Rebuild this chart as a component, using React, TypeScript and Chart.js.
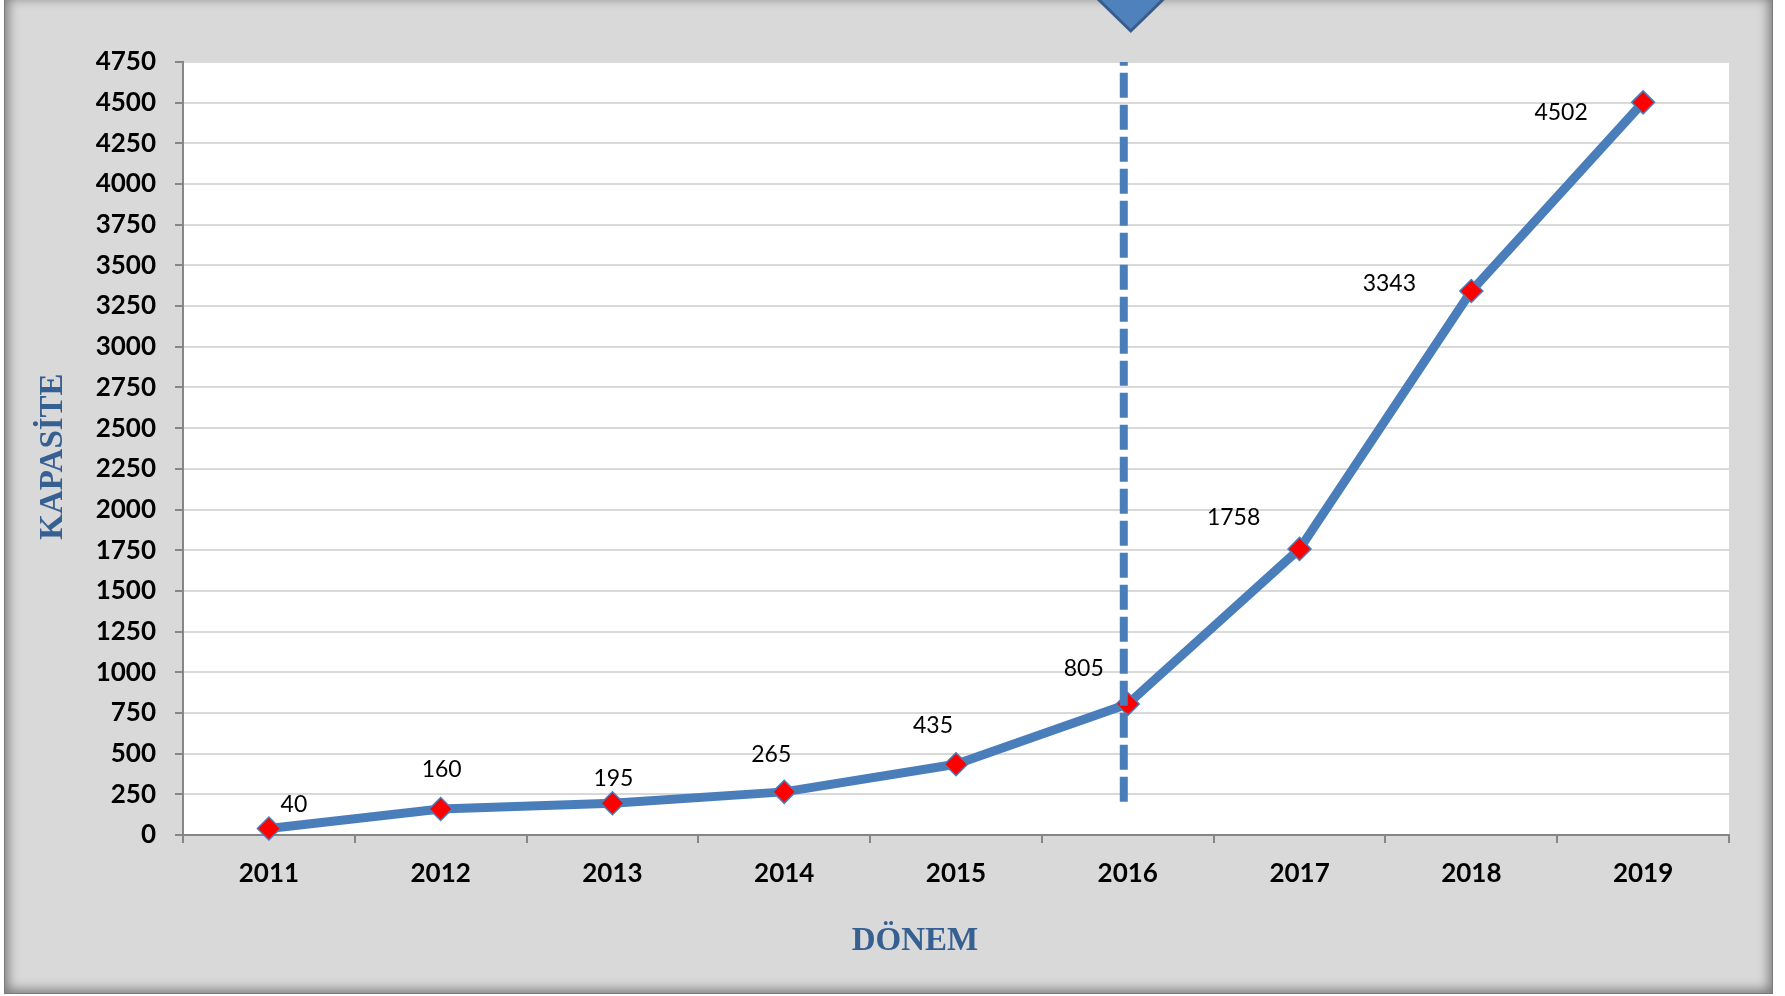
import React, { useEffect, useRef } from 'react';
import { Chart, registerables } from 'chart.js';

Chart.register(...registerables);

// ---- data ----
const YEARS = ['2011', '2012', '2013', '2014', '2015', '2016', '2017', '2018', '2019'];
const CAPACITY = [40, 160, 195, 265, 435, 805, 1758, 3343, 4502];
const Y_MIN = 0;
const Y_MAX = 4750;
const Y_STEP = 250;
const X_TITLE = 'DÖNEM';
const Y_TITLE = 'KAPASİTE';
const MARKER_YEAR = '2016';
const DASH_END_VALUE = 205;

// ---- label placement (style) ----
const LABEL_DX = [25, 1, 1, -13, -23, -44, -66, -82, -82];
const LABEL_DY = [-25, -40, -26, -38, -40, -36, -32, -8, 9];

const BLUE = '#4a7ebb';
const TITLE_BLUE = '#376092';
const TICK_FONT = 'Lato';

const W = 1785;
const H = 996;

const decorPlugin = {
  id: 'decor',
  beforeDraw(chart: any) {
    const { ctx, chartArea } = chart;
    ctx.save();
    ctx.fillStyle = '#ffffff';
    ctx.fillRect(chartArea.left, chartArea.top, chartArea.right - chartArea.left, chartArea.bottom - chartArea.top);
    ctx.restore();
  },
  afterDatasetsDraw(chart: any) {
    const { ctx, chartArea, scales } = chart;
    const xs = scales.x;
    const ys = scales.y;
    const idx = YEARS.indexOf(MARKER_YEAR);
    const mx = xs.getPixelForValue(idx) - 4;
    // dashed vertical line
    ctx.save();
    ctx.strokeStyle = BLUE;
    ctx.lineWidth = 8;
    ctx.setLineDash([25, 7]);
    ctx.beginPath();
    ctx.moveTo(mx, ys.getPixelForValue(DASH_END_VALUE));
    ctx.lineTo(mx, chartArea.top);
    ctx.stroke();
    ctx.restore();

    // data labels
    const meta = chart.getDatasetMeta(0);
    ctx.save();
    ctx.font = `23px ${TICK_FONT}`;
    ctx.fillStyle = '#000000';
    ctx.textAlign = 'center';
    ctx.textBaseline = 'middle';
    meta.data.forEach((pt: any, i: number) => {
      ctx.fillText(String(CAPACITY[i]), pt.x + LABEL_DX[i], pt.y + LABEL_DY[i] + 1);
    });
    ctx.restore();
  },
  afterDraw(chart: any) {
    const { ctx, chartArea, scales } = chart;
    const xs = scales.x;
    const idx = YEARS.indexOf(MARKER_YEAR);
    const cx = xs.getPixelForValue(idx) + 3;
    // marker triangle
    ctx.save();
    ctx.fillStyle = '#4f81bd';
    ctx.strokeStyle = '#385d8a';
    ctx.lineWidth = 3;
    ctx.lineJoin = 'miter';
    ctx.beginPath();
    ctx.moveTo(cx - 42, -10);
    ctx.lineTo(cx + 42, -10);
    ctx.lineTo(cx, 31);
    ctx.closePath();
    ctx.fill();
    ctx.stroke();
    ctx.restore();

    // axis titles
    ctx.save();
    ctx.fillStyle = TITLE_BLUE;
    ctx.font = 'bold 33px "Liberation Serif"';
    ctx.textAlign = 'center';
    ctx.textBaseline = 'alphabetic';
    const midX = (chartArea.left + chartArea.right) / 2;
    ctx.fillText(X_TITLE, midX - 41, chartArea.bottom + 115);
    const midY = (chartArea.top + chartArea.bottom) / 2;
    ctx.translate(chartArea.left - 121, midY + 8);
    ctx.rotate(-Math.PI / 2);
    ctx.fillText(Y_TITLE, 0, 0);
    ctx.restore();
  },
};

export default function App() {
  const canvasRef = useRef<HTMLCanvasElement | null>(null);

  useEffect(() => {
    const canvas = canvasRef.current;
    if (!canvas) return;
    const chart = new Chart(canvas, {
      type: 'line',
      data: {
        labels: YEARS,
        datasets: [
          {
            label: Y_TITLE,
            data: CAPACITY,
            borderColor: BLUE,
            borderWidth: 9,
            borderJoinStyle: 'round',
            tension: 0,
            pointStyle: 'rectRot',
            pointRadius: 11.5,
            pointBackgroundColor: '#ff0000',
            pointBorderColor: BLUE,
            pointBorderWidth: 1.5,
            clip: false,
          } as any,
        ],
      },
      options: {
        responsive: false,
        animation: false,
        events: [],
        layout: { padding: { left: 0, top: 62, right: 56, bottom: 0 } },
        plugins: {
          legend: { display: false },
          tooltip: { enabled: false },
          title: { display: false },
        },
        scales: {
          x: {
            type: 'category',
            offset: true,
            grid: {
              offset: true,
              drawOnChartArea: false,
              drawTicks: true,
              tickLength: 8,
              tickColor: '#868686',
              tickWidth: 2,
              lineWidth: 2,
              color: '#868686',
            },
            border: { display: true, color: '#868686', width: 2 },
            ticks: {
              color: '#000000',
              font: { family: TICK_FONT, size: 26, weight: 'bold', lineHeight: 1.2 },
              padding: 15,
              maxRotation: 0,
              autoSkip: false,
            },
            afterFit(scale: any) {
              scale.height = 161;
            },
          },
          y: {
            type: 'linear',
            min: Y_MIN,
            max: Y_MAX,
            grid: {
              color: '#d9d9d9',
              lineWidth: 2,
              drawTicks: true,
              tickLength: 8,
              tickColor: '#868686',
              tickWidth: 2,
            },
            border: { display: true, color: '#868686', width: 2 },
            ticks: {
              stepSize: Y_STEP,
              color: '#000000',
              font: { family: TICK_FONT, size: 26, weight: 'bold', lineHeight: 1.2 },
              padding: 19,
              callback: (v: any) => String(v),
            },
            afterFit(scale: any) {
              scale.width = 183;
            },
          },
        },
      } as any,
      plugins: [decorPlugin],
    });
    return () => chart.destroy();
  }, []);

  return (
    <div>
      <div
        style={{
          position: 'fixed',
          left: 4,
          top: -6,
          width: 1769,
          height: 1000,
          boxSizing: 'border-box',
          background: '#d9d9d9',
          border: '1px solid #7a7a7a',
          boxShadow: 'inset 0 0 12px 3px rgba(0,0,0,0.45)',
        }}
      />
      <canvas
        ref={canvasRef}
        width={W}
        height={H}
        style={{ position: 'fixed', left: 0, top: 0, width: W, height: H }}
      />
    </div>
  );
}
